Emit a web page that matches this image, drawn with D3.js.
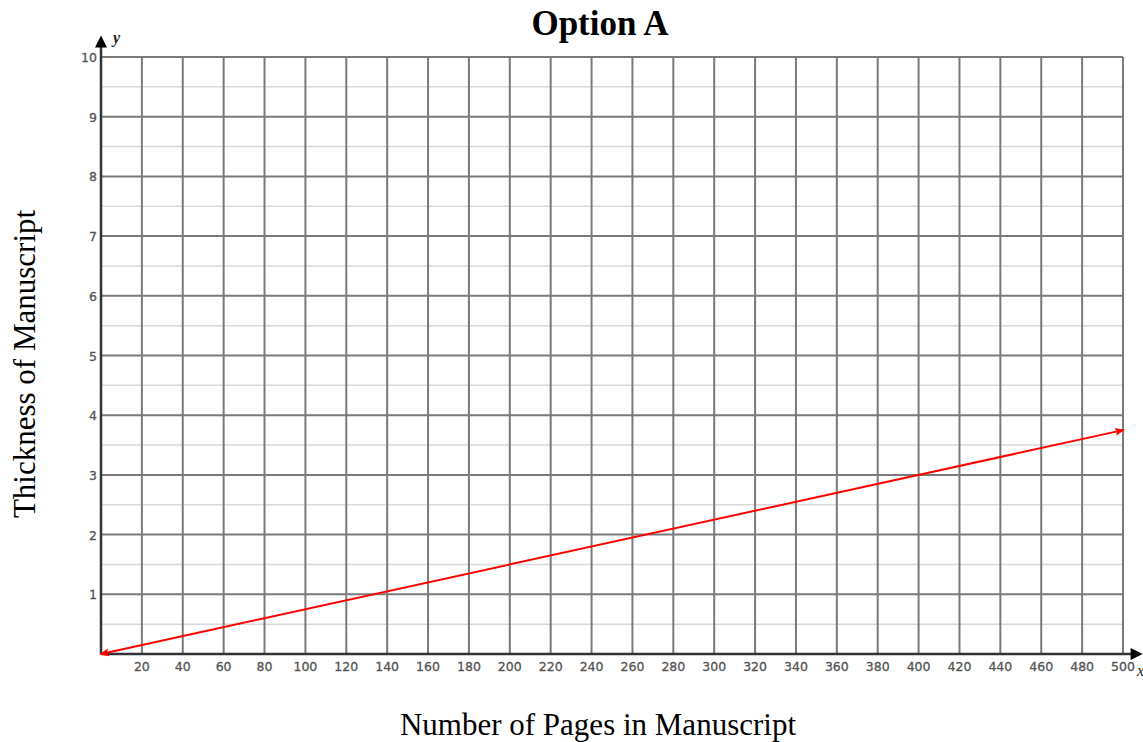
<!DOCTYPE html>
<html><head><meta charset="utf-8">
<script src="https://cdn.jsdelivr.net/npm/d3@7"></script>
<style>body{margin:0;background:#fff}</style>
</head><body>
<svg id="c" width="1143" height="742"></svg>
<script>
const title = "Option A";
const xTitle = "Number of Pages in Manuscript";
const yTitle = "Thickness of Manuscript";
const xTicks = [20,40,60,80,100,120,140,160,180,200,220,240,260,280,300,320,340,360,380,400,420,440,460,480,500];
const yTicks = [1,2,3,4,5,6,7,8,9,10];
const yMinor = [0.5,1.5,2.5,3.5,4.5,5.5,6.5,7.5,8.5,9.5];
const linePages = [0, 500];
const lineThick = [0, 3.75];

const svg = d3.select("#c");
const x = d3.scaleLinear().domain([0,500]).range([101,1123]);
const y = d3.scaleLinear().domain([0,10]).range([654,57]);

const defs = svg.append("defs");
defs.append("marker").attr("id","ra").attr("viewBox","0 0 10 10").attr("refX",8).attr("refY",5)
  .attr("markerWidth",14).attr("markerHeight",10).attr("markerUnits","userSpaceOnUse")
  .attr("orient","auto-start-reverse")
  .append("path").attr("d","M0,1 L10,5 L0,9 L2,5 Z").attr("fill","#ff0000");
defs.append("marker").attr("id","ka").attr("viewBox","0 0 10 10").attr("refX",2).attr("refY",5)
  .attr("markerWidth",14).attr("markerHeight",12).attr("markerUnits","userSpaceOnUse")
  .attr("orient","auto")
  .append("path").attr("d","M0,0 L10,5 L0,10 Z").attr("fill","#000");

// minor horizontal grid
svg.append("g").selectAll("line").data(yMinor).join("line")
  .attr("x1",x(0)).attr("x2",x(500)).attr("y1",d=>y(d)).attr("y2",d=>y(d))
  .attr("stroke","#d9d9d9").attr("stroke-width",1.5);

// major grid
svg.append("g").selectAll("line").data(yTicks).join("line")
  .attr("x1",x(0)).attr("x2",x(500)).attr("y1",d=>y(d)).attr("y2",d=>y(d))
  .attr("stroke","#7a7a7a").attr("stroke-width",2);
svg.append("g").selectAll("line").data(xTicks).join("line")
  .attr("x1",d=>x(d)).attr("x2",d=>x(d)).attr("y1",y(0)).attr("y2",y(10))
  .attr("stroke","#7a7a7a").attr("stroke-width",2);

// axes
svg.append("line").attr("x1",x(0)).attr("x2",x(500)+10).attr("y1",y(0)).attr("y2",y(0))
  .attr("stroke","#333").attr("stroke-width",2.5).attr("marker-end","url(#ka)");
svg.append("line").attr("x1",x(0)).attr("x2",x(0)).attr("y1",y(0)).attr("y2",y(10)-12)
  .attr("stroke","#333").attr("stroke-width",2.5).attr("marker-end","url(#ka)");

// tick labels
svg.append("g").selectAll("text").data(xTicks).join("text")
  .attr("x",d=>x(d)).attr("y",y(0)+17).attr("text-anchor","middle")
  .attr("font-family","DejaVu Sans, sans-serif").attr("font-size",12.5).attr("fill","#555")
  .attr("stroke","#555").attr("stroke-width",0.3)
  .text(d=>d);
svg.append("g").selectAll("text").data(yTicks).join("text")
  .attr("x",x(0)-4).attr("y",d=>y(d)+5).attr("text-anchor","end")
  .attr("font-family","DejaVu Sans, sans-serif").attr("font-size",12.5).attr("fill","#555")
  .attr("stroke","#555").attr("stroke-width",0.3)
  .text(d=>d);

// axis letters
svg.append("text").attr("x",x(0)+12).attr("y",y(10)-14).attr("font-family","Liberation Serif, serif")
  .attr("font-style","italic").attr("font-weight","bold").attr("font-size",16).attr("fill","#222").text("y");
svg.append("text").attr("x",x(500)+14).attr("y",y(0)+22).attr("font-family","Liberation Serif, serif")
  .attr("font-style","italic").attr("font-size",16).attr("fill","#222").text("x");

// red line
const pts = linePages.map((p,i)=>[x(p),y(lineThick[i])]);
svg.append("path").attr("d",d3.line()(pts)).attr("stroke","#ff0000").attr("stroke-width",2)
  .attr("fill","none").attr("marker-start","url(#ra)").attr("marker-end","url(#ra)");

// titles
svg.append("text").attr("x",600).attr("y",35).attr("text-anchor","middle")
  .attr("font-family","Liberation Serif, serif").attr("font-weight","bold").attr("font-size",35).text(title);
svg.append("text").attr("x",598).attr("y",735).attr("text-anchor","middle")
  .attr("font-family","Liberation Serif, serif").attr("font-size",31).text(xTitle);
svg.append("text").attr("transform","translate(35,364) rotate(-90)").attr("text-anchor","middle")
  .attr("font-family","Liberation Serif, serif").attr("font-size",31).text(yTitle);
</script>
</body></html>
